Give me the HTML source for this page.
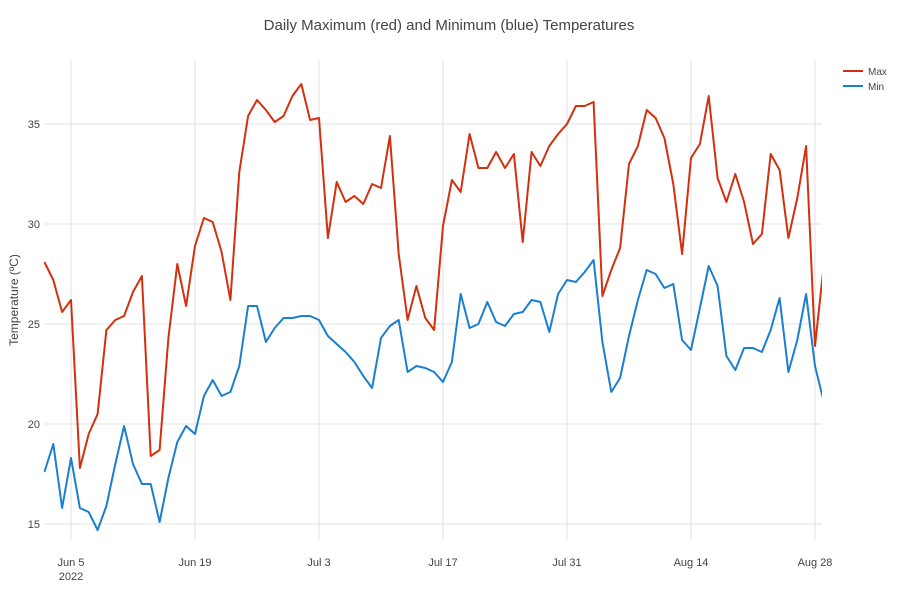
<!DOCTYPE html>
<html><head><meta charset="utf-8"><style>
body{margin:0;background:#fff;}
svg{display:block;font-family:"Liberation Sans",sans-serif;}
</style></head><body>
<svg id="s" width="900" height="600" xmlns="http://www.w3.org/2000/svg">
<defs><clipPath id="c"><rect x="44" y="60" width="778" height="480"/></clipPath></defs>
<rect width="900" height="600" fill="#fff"/>
<g id="grid" stroke="#e1e1e1" stroke-width="1"></g>
<g id="lines" clip-path="url(#c)"></g>
<text x="449" y="30" text-anchor="middle" font-size="15" fill="#444">Daily Maximum (red) and Minimum (blue) Temperatures</text>
<text transform="translate(18,300) rotate(-90)" text-anchor="middle" font-size="12" fill="#444">Temperature (ºC)</text>
<g id="ticks" font-size="11" fill="#444"></g>
<line x1="843" y1="71" x2="863" y2="71" stroke="#d2300f" stroke-width="2"/>
<text x="868" y="75" font-size="10" fill="#444">Max</text>
<line x1="843" y1="86" x2="863" y2="86" stroke="#1a7fd0" stroke-width="2"/>
<text x="868" y="90" font-size="10" fill="#444">Min</text>
</svg>
<script>
var mx=[28.1,27.2,25.6,26.2,17.8,19.5,20.5,24.7,25.2,25.4,26.6,27.4,18.4,18.7,24.3,28.0,25.9,28.9,30.3,30.1,28.6,26.2,32.6,35.4,36.2,35.7,35.1,35.4,36.4,37.0,35.2,35.3,29.3,32.1,31.1,31.4,31.0,32.0,31.8,34.4,28.5,25.2,26.9,25.3,24.7,29.9,32.2,31.6,34.5,32.8,32.8,33.6,32.8,33.5,29.1,33.6,32.9,33.9,34.5,35.0,35.9,35.9,36.1,26.4,27.7,28.8,33.0,33.9,35.7,35.3,34.3,32.0,28.5,33.3,34.0,36.4,32.3,31.1,32.5,31.1,29.0,29.5,33.5,32.7,29.3,31.3,33.9,23.9,28.0];
var mn=[17.6,19.0,15.8,18.3,15.8,15.6,14.7,15.9,18.0,19.9,18.0,17.0,17.0,15.1,17.3,19.1,19.9,19.5,21.4,22.2,21.4,21.6,22.9,25.9,25.9,24.1,24.8,25.3,25.3,25.4,25.4,25.2,24.4,24.0,23.6,23.1,22.4,21.8,24.3,24.9,25.2,22.6,22.9,22.8,22.6,22.1,23.1,26.5,24.8,25.0,26.1,25.1,24.9,25.5,25.6,26.2,26.1,24.6,26.5,27.2,27.1,27.6,28.2,24.1,21.6,22.3,24.4,26.2,27.7,27.5,26.8,27.0,24.2,23.7,25.8,27.9,26.9,23.4,22.7,23.8,23.8,23.6,24.7,26.3,22.6,24.2,26.5,22.9,21.1];
function X(i){return 71+(i-3)*124/14;}
function Y(t){return 524-(t-15)*20;}
var NS="http://www.w3.org/2000/svg";
function el(p,n,a,txt){var e=document.createElementNS(NS,n);for(var k in a)e.setAttribute(k,a[k]);if(txt)e.textContent=txt;p.appendChild(e);return e;}
var g=document.getElementById('grid'),t=document.getElementById('ticks'),l=document.getElementById('lines');
[15,20,25,30,35].forEach(function(v){var y=Y(v);el(g,'line',{x1:44,x2:822,y1:y,y2:y});el(t,'text',{x:40,y:y+4,'text-anchor':'end'},String(v));});
var xl=['Jun 5','Jun 19','Jul 3','Jul 17','Jul 31','Aug 14','Aug 28'];
xl.forEach(function(s,k){var x=71+124*k;el(g,'line',{x1:x,x2:x,y1:60,y2:540});el(t,'text',{x:x,y:566,'text-anchor':'middle'},s);});
el(t,'text',{x:71,y:580,'text-anchor':'middle'},'2022');
function pts(a){return a.map(function(v,i){return X(i).toFixed(1)+','+Y(v).toFixed(1);}).join(' ');}
el(l,'polyline',{points:pts(mx),fill:'none',stroke:'#d2300f','stroke-width':2,'stroke-linejoin':'round'});
el(l,'polyline',{points:pts(mn),fill:'none',stroke:'#1a7fd0','stroke-width':2,'stroke-linejoin':'round'});
</script>
</body></html>
